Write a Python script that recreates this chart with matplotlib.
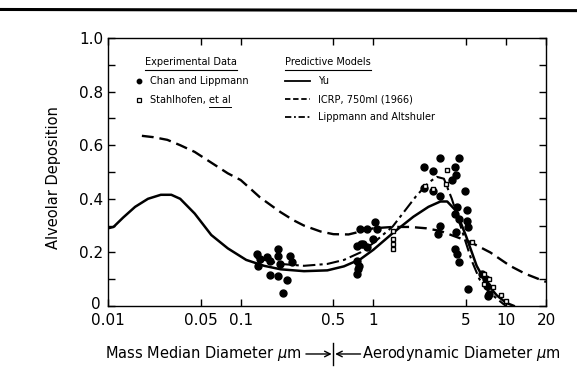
import matplotlib

matplotlib.use("Agg")
import matplotlib.pyplot as plt
import matplotlib.transforms as mtransforms
from matplotlib.lines import Line2D

# ---- data (diameter in um, alveolar deposition fraction) ----
yu_d = [0.01, 0.011, 0.013, 0.016, 0.02, 0.025, 0.03, 0.035, 0.045, 0.06, 0.08,
        0.11, 0.15, 0.2, 0.3, 0.45, 0.6, 0.8, 1.0, 1.4, 2.0, 2.6, 3.2, 3.6,
        4.2, 5.0, 6.0, 7.0, 8.5, 10.0, 11.5]
yu_dep = [0.29, 0.295, 0.33, 0.37, 0.40, 0.415, 0.415, 0.40, 0.345, 0.265, 0.215,
          0.172, 0.15, 0.137, 0.13, 0.133, 0.148, 0.175, 0.21, 0.272, 0.333, 0.37, 0.39, 0.39,
          0.355, 0.26, 0.15, 0.09, 0.04, 0.012, 0.0]

icrp_d = [0.018, 0.022, 0.028, 0.035, 0.045, 0.06, 0.08, 0.1, 0.12, 0.14, 0.17,
          0.2, 0.25, 0.3, 0.4, 0.5, 0.65, 0.8, 1.0, 1.4, 1.9, 2.5, 3.2, 4.0,
          5.3, 7.6, 10.7, 14.0, 20.0]
icrp_dep = [0.635, 0.63, 0.62, 0.60, 0.575, 0.535, 0.495, 0.47, 0.435, 0.405, 0.375,
            0.35, 0.32, 0.30, 0.278, 0.268, 0.267, 0.278, 0.29, 0.295, 0.295, 0.29, 0.28, 0.262,
            0.24, 0.20, 0.15, 0.12, 0.09]

lipp_d = [0.13, 0.2, 0.3, 0.45, 0.6, 0.8, 1.0, 1.4, 2.1, 2.6, 3.0, 3.4, 3.9,
          4.7, 5.5, 6.3, 7.5, 9.4, 10.0]
lipp_dep = [0.18, 0.157, 0.15, 0.157, 0.172, 0.20, 0.235, 0.297, 0.41, 0.46, 0.482, 0.475, 0.40,
            0.275, 0.17, 0.10, 0.05, 0.01, 0.0]

chan_d = [0.133, 0.14, 0.135, 0.158, 0.166, 0.19, 0.19, 0.197, 0.166, 0.19, 0.223, 0.21,
          0.235, 0.245,
          0.75, 0.84, 0.75, 0.76, 0.75, 0.79, 0.89, 1.03, 1.07, 0.8, 0.89, 0.99, 0.78,
          3.17, 4.4, 2.4, 2.8, 4.1, 4.2, 3.9, 3.17, 2.8, 2.4, 4.9, 4.3, 4.1, 5.1, 4.4,
          5.1, 5.2, 3.17, 3.05, 4.2, 4.1, 4.3, 4.4, 5.2, 6.6, 7.0, 7.2, 7.4, 7.3]
chan_dep = [0.193, 0.175, 0.149, 0.182, 0.167, 0.212, 0.186, 0.156, 0.115, 0.112, 0.097, 0.048,
            0.186, 0.164,
            0.223, 0.23, 0.167, 0.138, 0.119, 0.286, 0.286, 0.312, 0.286, 0.23, 0.219, 0.249, 0.149,
            0.554, 0.554, 0.517, 0.502, 0.517, 0.49, 0.472, 0.41, 0.428, 0.442, 0.428, 0.368, 0.342,
            0.36, 0.323, 0.316, 0.294, 0.297, 0.268, 0.275, 0.212, 0.193, 0.164, 0.063, 0.119, 0.1,
            0.074, 0.045, 0.037]

stahl_d = [1.4, 1.4, 1.4, 1.4, 3.6, 3.5, 2.45, 2.8, 5.5, 6.8, 6.8, 7.5, 8.0, 9.2, 10.0]
stahl_dep = [0.28, 0.249, 0.23, 0.212, 0.509, 0.454, 0.446, 0.435, 0.238, 0.119, 0.082, 0.1,
             0.07, 0.04, 0.02]

x_ticks = [0.01, 0.05, 0.1, 0.5, 1, 5, 10, 20]
x_tick_labels = ["0.01", "0.05", "0.1", "0.5", "1", "5", "10", "20"]
y_ticks = [0, 0.2, 0.4, 0.6, 0.8, 1.0]
y_tick_labels = ["0", "0.2", "0.4", "0.6", "0.8", "1.0"]


def setup_plot_style() -> None:
    plt.rcParams.update(
        {
            "font.family": "DejaVu Sans",
            "font.size": 10,
            "axes.linewidth": 1.0,
            "xtick.direction": "in",
            "ytick.direction": "in",
            "xtick.top": True,
            "ytick.right": True,
        }
    )


def underline(fig, ax, artist, dy=0.022, lw=0.8):
    """Draw a line under a text artist (axes fraction coords)."""
    fig.canvas.draw()
    bb = artist.get_window_extent().transformed(ax.transAxes.inverted())
    ax.add_line(Line2D([bb.x0, bb.x1], [bb.y0 - dy + 0.012] * 2,
                       transform=ax.transAxes, color="black", lw=lw))
    return bb


setup_plot_style()
fig = plt.figure(figsize=(5.77, 3.79), dpi=100)
ax = fig.add_axes([0.1872, 0.1926, 0.7591, 0.7071])

ax.plot(yu_d, yu_dep, color="black", lw=1.8, solid_capstyle="round")
ax.plot(icrp_d, icrp_dep, color="black", lw=1.7, dashes=(5, 2.5))
ax.plot(lipp_d, lipp_dep, color="black", lw=1.5, dashes=(6, 2, 1.5, 2))
ax.plot(chan_d, chan_dep, "o", color="black", ms=5)
ax.plot(stahl_d, stahl_dep, "s", mfc="white", mec="black", mew=1.0, ms=3.5)

ax.set_xscale("log")
ax.set_xlim(0.01, 20)
ax.set_ylim(0, 1.0)
ax.set_xticks(x_ticks)
ax.set_xticklabels(x_tick_labels)
ax.xaxis.set_minor_locator(matplotlib.ticker.NullLocator())
ax.set_yticks(y_ticks)
ax.set_yticklabels(y_tick_labels)
ax.set_yticks([0.1, 0.3, 0.5, 0.7, 0.9], minor=True)
ax.tick_params(which="both", length=5, width=1.0, labelsize=11)
ax.tick_params(axis="x", pad=5)

# nudge the "0" of the y axis a little so it clears "0.01"
zero = ax.get_yticklabels()[0]
zero.set_transform(zero.get_transform()
                   + mtransforms.ScaledTranslation(-2 / 72, 2.5 / 72, fig.dpi_scale_trans))

ax.set_ylabel("Alveolar Deposition", fontsize=10.5, labelpad=10)
ax.yaxis.set_label_coords(-0.108, 0.48)

# ---- legend, drawn by hand like the original ----
fs = 7
h1 = ax.text(0.085, 0.91, "Experimental Data", transform=ax.transAxes, fontsize=fs, va="center")
ax.plot([0.07], [0.84], "o", color="black", ms=3.2, transform=ax.transAxes, clip_on=False)
ax.text(0.096, 0.84, "Chan and Lippmann", transform=ax.transAxes, fontsize=fs, va="center")
ax.plot([0.07], [0.77], "s", mfc="white", mec="black", ms=3, mew=0.9,
        transform=ax.transAxes, clip_on=False)
s1 = ax.text(0.096, 0.77, "Stahlhofen, ", transform=ax.transAxes, fontsize=fs, va="center")
fig.canvas.draw()
bb = s1.get_window_extent().transformed(ax.transAxes.inverted())
s2 = ax.text(bb.x1, 0.77, "et al", transform=ax.transAxes, fontsize=fs, va="center")

h2 = ax.text(0.404, 0.91, "Predictive Models", transform=ax.transAxes, fontsize=fs, va="center")
model_rows = [("Yu", "-"), ("ICRP, 750ml (1966)", "--"), ("Lippmann and Altshuler", "-.")]
for i, (label, ls) in enumerate(model_rows):
    yy = 0.84 - 0.068 * i
    ln = Line2D([0.404, 0.462], [yy, yy], transform=ax.transAxes, color="black", lw=1.3)
    if ls == "--":
        ln.set_dashes((3, 1.5))
    elif ls == "-.":
        ln.set_dashes((3.5, 1.5, 1, 1.5))
    ax.add_line(ln)
    ax.text(0.479, yy, label, transform=ax.transAxes, fontsize=fs, va="center")

underline(fig, ax, h1)
underline(fig, ax, h2)
underline(fig, ax, s2, lw=0.7)

# ---- composite x label with arrows meeting at 0.5 um ----
blend = mtransforms.blended_transform_factory(ax.transData, fig.transFigure)
ly = 0.066
ax.text(0.29, ly, r"Mass Median Diameter $\mu$m", transform=blend, ha="right", va="center",
        fontsize=10.5)
ax.text(0.82, ly, r"Aerodynamic Diameter $\mu$m", transform=blend, ha="left", va="center",
        fontsize=10.5)
ax.annotate("", xy=(0.485, ly), xytext=(0.31, ly), xycoords=blend, textcoords=blend,
            arrowprops=dict(arrowstyle="->", lw=1.0, color="black", shrinkA=0, shrinkB=0))
ax.annotate("", xy=(0.515, ly), xytext=(0.8, ly), xycoords=blend, textcoords=blend,
            arrowprops=dict(arrowstyle="->", lw=1.0, color="black", shrinkA=0, shrinkB=0))
ax.add_line(Line2D([0.5, 0.5], [ly - 0.028, ly + 0.028], transform=blend, color="black",
                   lw=1.0, clip_on=False))

# scanned page header rule
fig.add_artist(Line2D([0, 1], [0.975, 0.972], transform=fig.transFigure, color="black", lw=2.2))

fig.savefig("out.png", dpi=100)
plt.close(fig)
